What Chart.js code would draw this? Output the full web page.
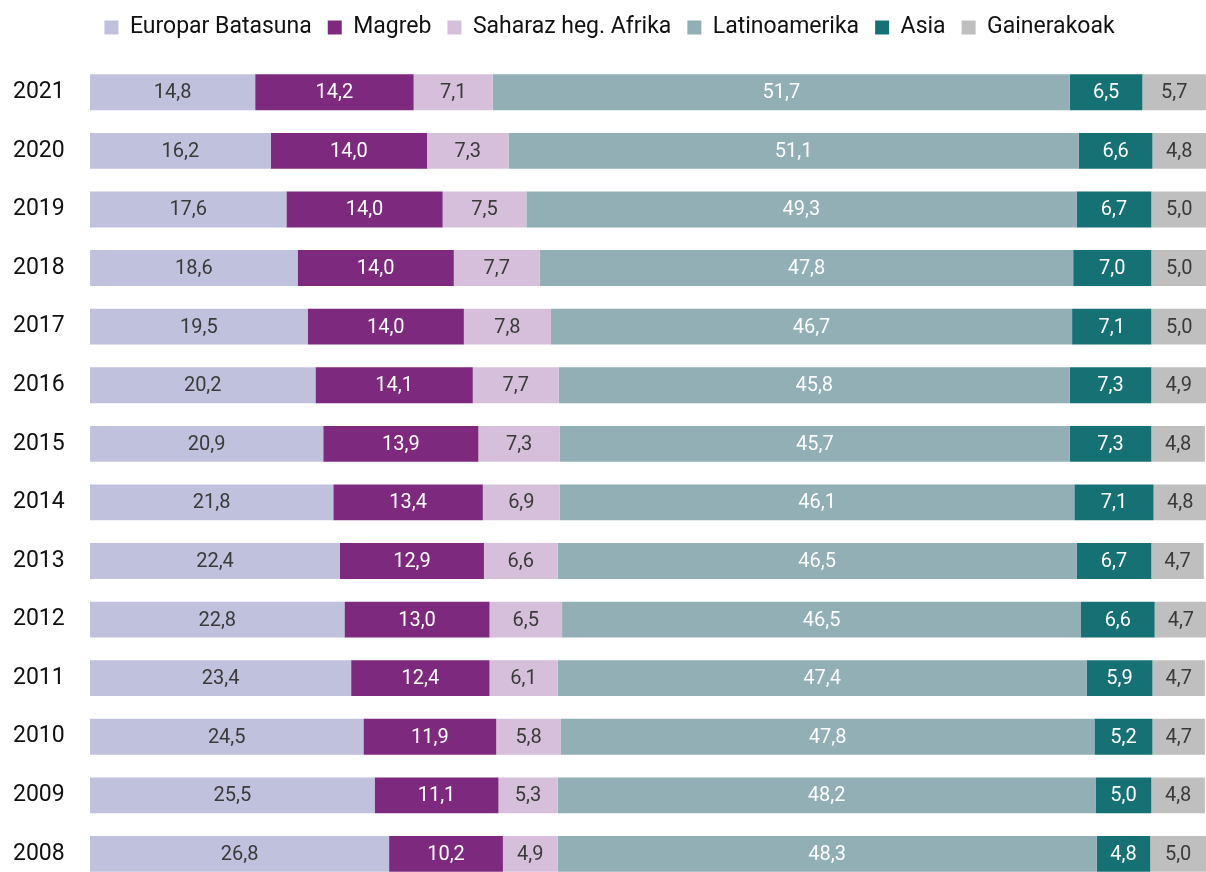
<!DOCTYPE html>
<html>
<head>
<meta charset="utf-8">
<script src="https://cdn.jsdelivr.net/npm/chart.js@4.4.0/dist/chart.umd.min.js"></script>
<style>
  html, body { margin: 0; padding: 0; background: #fff; overflow: hidden; }
  #wrap { width: 1206px; height: 900px; position: relative; }
</style>
</head>
<body>
<div id="wrap"><canvas id="chart"></canvas></div>
<script>
const years = ["2021", "2020", "2019", "2018", "2017", "2016", "2015", "2014", "2013", "2012", "2011", "2010", "2009", "2008"];
const seriesNames = ["Europar Batasuna", "Magreb", "Saharaz heg. Afrika", "Latinoamerika", "Asia", "Gainerakoak"];
const europar = [14.8, 16.2, 17.6, 18.6, 19.5, 20.2, 20.9, 21.8, 22.4, 22.8, 23.4, 24.5, 25.5, 26.8];
const magreb = [14.2, 14.0, 14.0, 14.0, 14.0, 14.1, 13.9, 13.4, 12.9, 13.0, 12.4, 11.9, 11.1, 10.2];
const saharaz = [7.1, 7.3, 7.5, 7.7, 7.8, 7.7, 7.3, 6.9, 6.6, 6.5, 6.1, 5.8, 5.3, 4.9];
const latino = [51.7, 51.1, 49.3, 47.8, 46.7, 45.8, 45.7, 46.1, 46.5, 46.5, 47.4, 47.8, 48.2, 48.3];
const asia = [6.5, 6.6, 6.7, 7.0, 7.1, 7.3, 7.3, 7.1, 6.7, 6.6, 5.9, 5.2, 5.0, 4.8];
const besteak = [5.7, 4.8, 5.0, 5.0, 5.0, 4.9, 4.8, 4.8, 4.7, 4.7, 4.7, 4.7, 4.8, 5.0];

const colors = ["#c0c1dc", "#7d2a7e", "#d6bfdb", "#91afb5", "#167175", "#bfbfbf"];
const labelColors = ["#3a3a3a", "#fff", "#3a3a3a", "#fff", "#fff", "#3a3a3a"];
const FONT = "'Roboto', sans-serif";

// etiketak barren erdian
const valueLabels = {
    id: 'valueLabels',
    afterDatasetsDraw(chart) {
        const ctx = chart.ctx;
        ctx.save();
        ctx.font = "20px " + FONT;
        ctx.textAlign = 'center';
        ctx.textBaseline = 'middle';
        chart.data.datasets.forEach((ds, i) => {
            const meta = chart.getDatasetMeta(i);
            meta.data.forEach((bar, j) => {
                const x = (bar.x + bar.base) / 2;
                ctx.fillStyle = labelColors[i];
                ctx.fillText(ds.data[j].toFixed(1).replace('.', ','), x, bar.y + 1);
            });
        });
        ctx.restore();
    }
};

const legendHeight = {
    id: 'legendHeight',
    beforeInit(chart) {
        const fit = chart.legend.fit;
        chart.legend.fit = function () {
            fit.call(this);
            this.height = 63;
        };
    }
};

new Chart(document.getElementById('chart'), {
    type: 'bar',
    data: {
        labels: years,
        datasets: [europar, magreb, saharaz, latino, asia, besteak].map((d, i) => ({
            label: seriesNames[i],
            data: d,
            backgroundColor: colors[i],
            borderWidth: 0,
            barPercentage: 0.612,
            categoryPercentage: 1
        }))
    },
    options: {
        indexAxis: 'y',
        responsive: true,
        maintainAspectRatio: false,
        animation: false,
        layout: { padding: { left: 13, right: 0, top: 0, bottom: 13 } },
        scales: {
            x: {
                stacked: true,
                min: 0,
                max: 100,
                display: false
            },
            y: {
                stacked: true,
                grid: { display: false },
                border: { display: false },
                afterFit(scale) { scale.width = 77; },
                ticks: {
                    crossAlign: 'far',
                    color: '#111',
                    font: { family: FONT, size: 23 }
                }
            }
        },
        plugins: {
            tooltip: { enabled: false },
            legend: {
                position: 'top',
                labels: {
                    boxWidth: 14,
                    boxHeight: 14,
                    padding: 16,
                    color: '#111',
                    font: { family: FONT, size: 23 }
                }
            }
        }
    },
    plugins: [valueLabels, legendHeight]
});
</script>
</body>
</html>
